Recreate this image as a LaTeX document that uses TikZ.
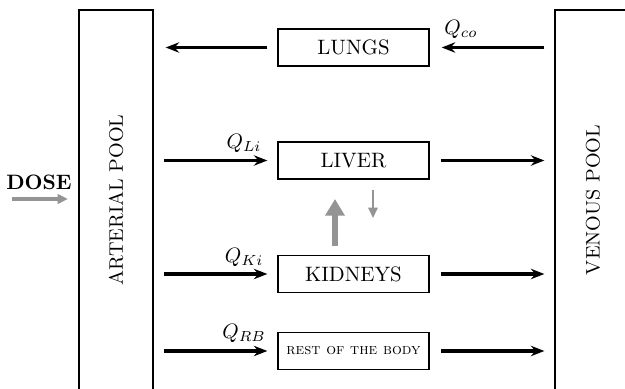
\documentclass[tikz,border=0pt]{standalone}
\usetikzlibrary{arrows.meta}
\begin{document}
\begin{tikzpicture}[x=0.48pt,y=-0.48pt,
  organ/.style={draw,line width=0.6pt,minimum width=72.5pt,minimum height=17.8pt,inner sep=0pt,font=\normalsize},
  pool/.style={draw,line width=0.6pt,minimum height=192pt,inner sep=0pt},
  poollabel/.style={rotate=90,inner sep=0pt,font=\fontsize{9.4}{11}\selectfont},
  flow/.style={line width=1.75pt,-{Stealth[length=6.5pt,width=5pt,inset=2.2pt]}},
  grayflow/.style={color=black!42,-{Stealth[length=5pt,width=4.5pt,inset=0pt]}},
  qlab/.style={inner sep=0pt,font=\normalsize}]
\useasboundingbox (0,0) rectangle (625,389);
% pools
\node[pool,minimum width=35.5pt] (art) at (116,210) {};
\node[pool,minimum width=43.2pt] (ven) at (600,210) {};
\node[poollabel] (arttext) at (116,200) {ARTERIAL POOL};
\node[poollabel] (ventext) at (593,200) {VENOUS POOL};
% organs
\node[organ] (lungs) at (353.5,47.5) {LUNGS};
\node[organ] (liver) at (353.5,160.5) {LIVER};
\node[organ] (kid) at (353.5,274) {KIDNEYS};
\node[organ] (rest) at (353.5,351) {\fontsize{7.4}{9}\selectfont\textsc{rest of the body}};
% flows
\draw[flow,shorten <=4.8pt,shorten >=5.8pt] (ven.west |- lungs) -- (lungs.east);
\draw[flow,shorten <=4.8pt,shorten >=5.8pt] (lungs.west) -- (art.east |- lungs);
\foreach \n in {liver,kid,rest}{
  \draw[flow,shorten <=4.8pt,shorten >=4.8pt] (art.east |- \n) -- (\n.west);
  \draw[flow,shorten <=5.3pt,shorten >=4.8pt] (\n.east) -- (ven.west |- \n);
}
% labels
\node[qlab] (qco) at (461,29) {$Q_{co}$};
\node[qlab] (qli) at (244,143) {$Q_{Li}$};
\node[qlab] (qki) at (244,257) {$Q_{Ki}$};
\node[qlab] (qrb) at (244,333) {$Q_{RB}$};
% dose
\node[inner sep=0pt,font=\bfseries] (dose) at (39,182) {DOSE};
\coordinate (d0) at (12,199);
\coordinate (d1) at (68,199);
\draw[grayflow,line width=1.6pt] (d0) -- (d1);
% exchange arrows
\coordinate (u0) at (335,246);
\coordinate (u1) at (335,199);
\draw[color=black!42,line width=2.6pt,-{Stealth[length=8pt,width=9pt,inset=0pt]}] (u0) -- (u1);
\coordinate (v0) at (373,190);
\coordinate (v1) at (373,218);
\draw[grayflow,line width=1.1pt] (v0) -- (v1);
\end{tikzpicture}
\end{document}
